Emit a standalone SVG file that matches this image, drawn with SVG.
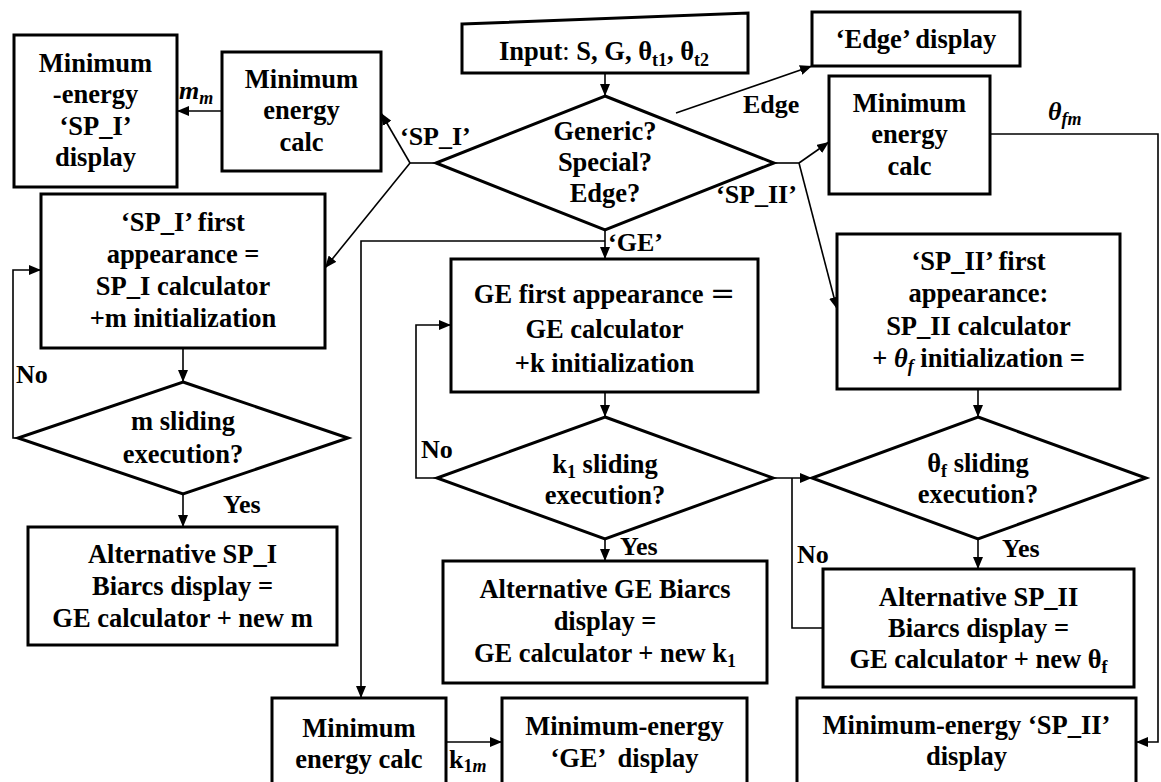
<svg xmlns="http://www.w3.org/2000/svg" width="1161" height="782" viewBox="0 0 1161 782">
<style>
.n{fill:#fff;stroke:#000;stroke-width:3}
.t{font-family:"Liberation Serif","Times New Roman",serif;font-weight:bold;font-size:26.5px;text-anchor:middle;fill:#000}
.l{font-family:"Liberation Serif","Times New Roman",serif;font-weight:bold;font-size:26px;text-anchor:start;fill:#000}
.s{font-size:18px}
.i{font-style:italic}
.c{fill:none;stroke:#000;stroke-width:1.6}
.a{marker-end:url(#ah)}
</style>
<defs>
<marker id="ah" markerUnits="userSpaceOnUse" markerWidth="12" markerHeight="10" refX="12" refY="5" orient="auto">
<path d="M0,0 L12,5 L0,10 z" fill="#000"/>
</marker>
</defs>
<rect width="1161" height="782" fill="#fff"/>

<g id="connectors">
<path class="c a" d="M605,73 V96"/>
<path class="c" d="M436,163 H410"/>
<path class="c a" d="M410,163 L381,113"/>
<path class="c a" d="M410,163 L325,268"/>
<path class="c a" d="M222,111 H177"/>
<path class="c a" d="M676,113 L812,66"/>
<path class="c" d="M774,163 H799"/>
<path class="c a" d="M799,163 L829,142"/>
<path class="c a" d="M799,163 L837,309"/>
<path class="c a" d="M605,230 V259"/>
<path class="c a" d="M605,241 H361 V698"/>
<path class="c a" d="M183,348 V382"/>
<path class="c a" d="M18,438 H13 V270 H41"/>
<path class="c a" d="M183,494 V527"/>
<path class="c a" d="M605,392 V417"/>
<path class="c a" d="M437,478 H416 V325 H451"/>
<path class="c a" d="M605,539 V561"/>
<path class="c a" d="M773,478 H812"/>
<path class="c" d="M823,628 H792 V478"/>
<path class="c a" d="M978,389 V417"/>
<path class="c a" d="M978,539 V569"/>
<path class="c a" d="M990,134 H1158 V742 H1136"/>
<path class="c a" d="M446,742 H502"/>
<text class="l i" x="179" y="99" font-size="28">m<tspan class="s" dy="5">m</tspan></text>
<text class="l" x="400" y="145">‘SP_I’</text>
<text class="l" x="743" y="113">Edge</text>
<text class="l" x="716" y="203">‘SP_II’</text>
<text class="l" x="608" y="251">‘GE’</text>
<text class="l i" x="1048" y="120" font-size="28">θ<tspan class="s" dy="5">fm</tspan></text>
<text class="l" x="16" y="383">No</text>
<text class="l" x="223" y="513">Yes</text>
<text class="l" x="421" y="458">No</text>
<text class="l" x="620" y="555">Yes</text>
<text class="l" x="797" y="563">No</text>
<text class="l" x="1002" y="557">Yes</text>
<text class="l" x="449" y="768">k<tspan class="s" dy="4">1</tspan><tspan class="s i">m</tspan></text>
</g>

<g id="min-energy-sp1-display">
<rect class="n" x="14" y="35" width="163" height="152"/>
<text class="t" x="95.5" y="72">Minimum</text>
<text class="t" x="95.5" y="103">-energy</text>
<text class="t" x="95.5" y="135">‘SP_I’</text>
<text class="t" x="95.5" y="166">display</text>
</g>

<g id="min-energy-calc-sp1">
<rect class="n" x="222" y="52" width="159" height="119"/>
<text class="t" x="301.5" y="88">Minimum</text>
<text class="t" x="301.5" y="119">energy</text>
<text class="t" x="301.5" y="151">calc</text>
</g>

<g id="input">
<polygon class="n" points="462,24 748,13 748,73 462,73"/>
<text class="t" x="604" y="60">Input<tspan font-weight="normal">:</tspan> S, G, θ<tspan class="s" dy="6">t1</tspan><tspan dy="-6">, θ</tspan><tspan class="s" dy="6">t2</tspan></text>
</g>

<g id="decision-type">
<polygon class="n" points="605,96 774,163 605,230 436,163"/>
<text class="t" x="605" y="140">Generic?</text>
<text class="t" x="605" y="171">Special?</text>
<text class="t" x="605" y="202">Edge?</text>
</g>

<g id="edge-display">
<rect class="n" x="812" y="12" width="208" height="54"/>
<text class="t" x="916" y="48">‘Edge’ display</text>
</g>

<g id="min-energy-calc-sp2">
<rect class="n" x="829" y="76" width="161" height="118"/>
<text class="t" x="909.5" y="112">Minimum</text>
<text class="t" x="909.5" y="143">energy</text>
<text class="t" x="909.5" y="175">calc</text>
</g>

<g id="sp1-first">
<rect class="n" x="41" y="194" width="284" height="154"/>
<text class="t" x="183" y="231">‘SP_I’ first</text>
<text class="t" x="183" y="263">appearance =</text>
<text class="t" x="183" y="295">SP_I calculator</text>
<text class="t" x="183" y="327">+m initialization</text>
</g>

<g id="m-sliding">
<polygon class="n" points="183,382 348,438 183,494 18,438"/>
<text class="t" x="183" y="430">m sliding</text>
<text class="t" x="183" y="463">execution?</text>
</g>

<g id="alt-sp1">
<rect class="n" x="28" y="527" width="309" height="118"/>
<text class="t" x="182.5" y="563">Alternative SP_I</text>
<text class="t" x="182.5" y="595">Biarcs display =</text>
<text class="t" x="182.5" y="627">GE calculator + new m</text>
</g>

<g id="ge-first">
<rect class="n" x="451" y="259" width="307" height="133"/>
<text class="t" x="604.5" y="303">GE first appearance <tspan font-family="DejaVu Serif" font-weight="normal" font-size="30">=</tspan></text>
<text class="t" x="604.5" y="338">GE calculator</text>
<text class="t" x="604.5" y="372">+k initialization</text>
</g>

<g id="k1-sliding">
<polygon class="n" points="605,417 773,478 605,539 437,478"/>
<text class="t" x="605" y="473">k<tspan class="s" dy="5">1</tspan><tspan dy="-5"> sliding</tspan></text>
<text class="t" x="605" y="504">execution?</text>
</g>

<g id="sp2-first">
<rect class="n" x="837" y="234" width="283" height="155"/>
<text class="t" x="978.5" y="270">‘SP_II’ first</text>
<text class="t" x="978.5" y="302">appearance:</text>
<text class="t" x="978.5" y="335">SP_II calculator</text>
<text class="t" x="978.5" y="367">+ <tspan class="i">θ</tspan><tspan class="s i" dy="5">f</tspan><tspan dy="-5"> initialization =</tspan></text>
</g>

<g id="thetaf-sliding">
<polygon class="n" points="978,417 1146,478 978,539 812,478"/>
<text class="t" x="978" y="472">θ<tspan class="s" dy="5">f</tspan><tspan dy="-5"> sliding</tspan></text>
<text class="t" x="978" y="503">execution?</text>
</g>

<g id="alt-ge">
<rect class="n" x="443" y="561" width="324" height="122"/>
<text class="t" x="605" y="598">Alternative GE Biarcs</text>
<text class="t" x="605" y="630">display =</text>
<text class="t" x="605" y="662">GE calculator + new k<tspan class="s" dy="5">1</tspan></text>
</g>

<g id="alt-sp2">
<rect class="n" x="823" y="569" width="311" height="118"/>
<text class="t" x="978.5" y="606">Alternative SP_II</text>
<text class="t" x="978.5" y="637">Biarcs display =</text>
<text class="t" x="978.5" y="668">GE calculator + new θ<tspan class="s" dy="5">f</tspan></text>
</g>

<g id="min-energy-calc-ge">
<rect class="n" x="272" y="698" width="174" height="95"/>
<text class="t" x="359" y="737">Minimum</text>
<text class="t" x="359" y="768">energy calc</text>
</g>

<g id="min-energy-ge-display">
<rect class="n" x="502" y="698" width="245" height="95"/>
<text class="t" x="624.5" y="735">Minimum-energy</text>
<text class="t" x="624.5" y="767" xml:space="preserve">‘GE’  display</text>
</g>

<g id="min-energy-sp2-display">
<rect class="n" x="797" y="698" width="339" height="95"/>
<text class="t" x="966.5" y="734">Minimum-energy ‘SP_II’</text>
<text class="t" x="966.5" y="765">display</text>
</g>
</svg>
